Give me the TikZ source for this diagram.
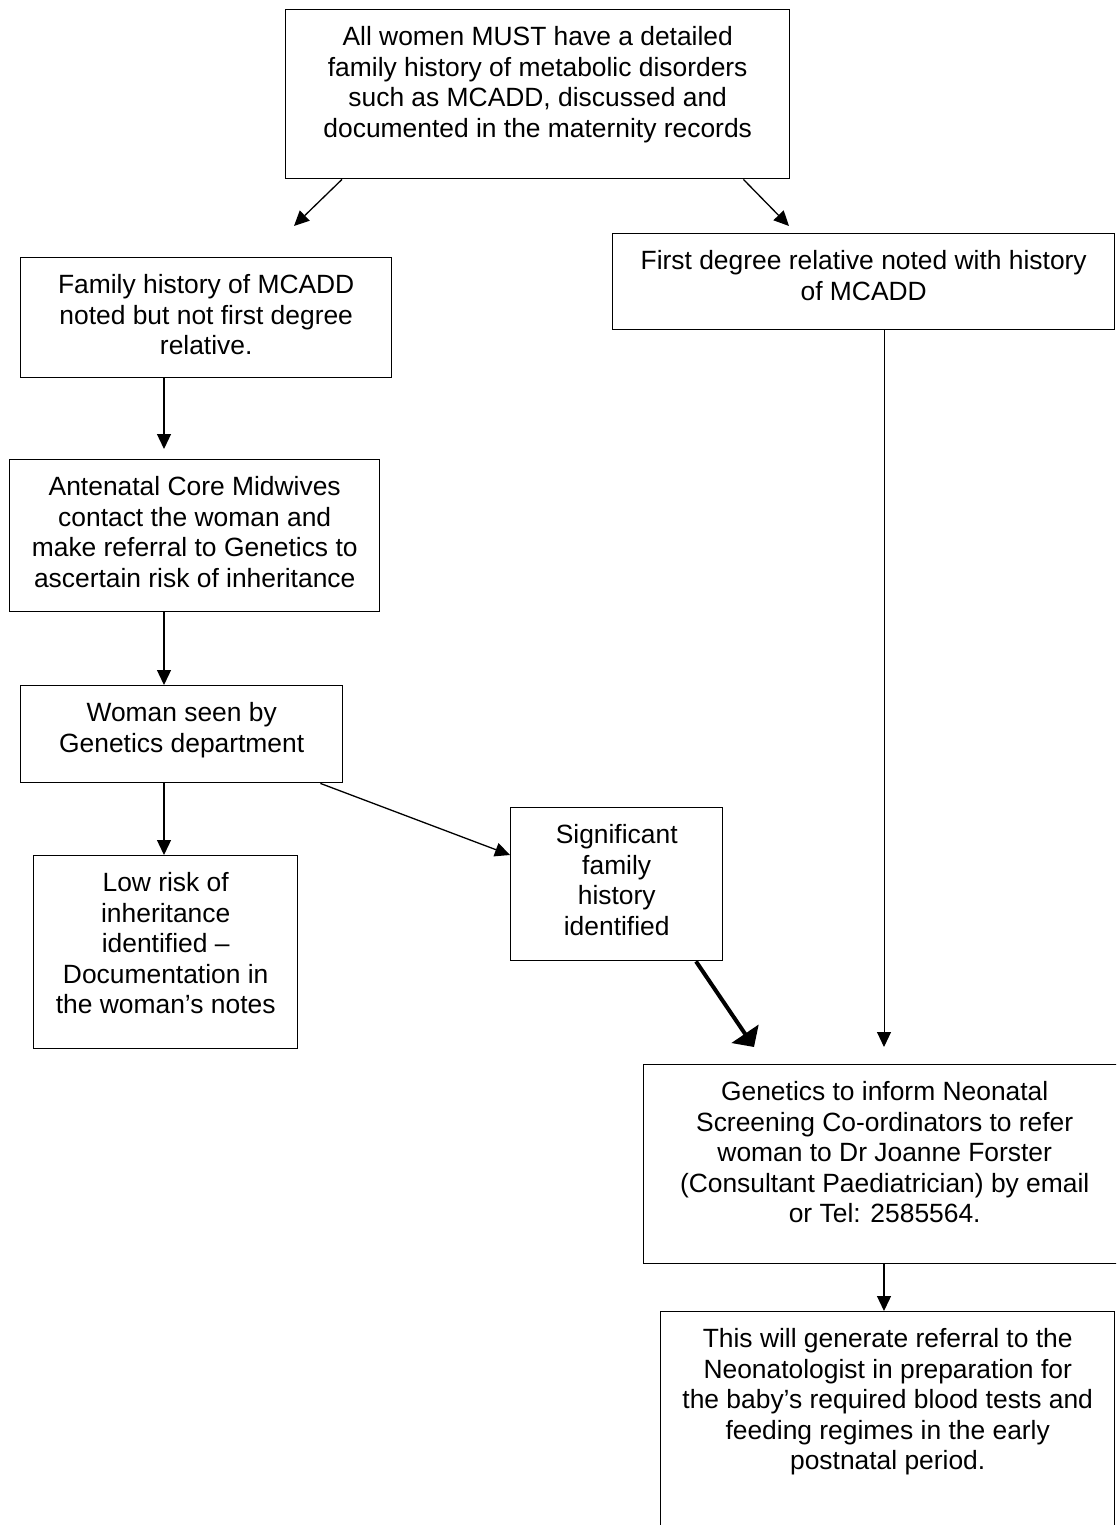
\documentclass[tikz,border=0pt]{standalone}
\usepackage{fontspec}
\setmainfont{Liberation Sans}
\usetikzlibrary{arrows.meta,calc}

% texto alinhado ao topo da caixa
\newcommand{\boxtxt}[3]{\parbox[t][#2][t]{#1}{\vspace*{17pt}\centering #3}}

\begin{document}
\begin{tikzpicture}[x=1pt, y=-1pt,
    >={Triangle[length=15pt,width=14pt]},
    flowbox/.style={draw, line width=1.4pt, inner sep=0pt, anchor=north west,
      font=\fontsize{26.4}{30.4}\selectfont},
    arr/.style={->, line width=1.3pt},
    thickarr/.style={-{Triangle[length=16pt,width=32pt]}, line width=4pt}]

  % área da figura
  \useasboundingbox (0,0) rectangle (1116,1525);
  \clip (0,0) rectangle (1116,1525);

  % --- caixas ---
  \node[flowbox] (hist) at (285,9) {\boxtxt{504pt}{169pt}{All women MUST have a detailed\\family history of metabolic disorders\\such as MCADD, discussed and\\documented in the maternity records}};
  \node[flowbox] (fam) at (20,257) {\boxtxt{371pt}{120pt}{Family history of MCADD\\noted but not first degree\\relative.}};
  \node[flowbox] (first) at (612,233) {\boxtxt{502pt}{96pt}{First degree relative noted with history\\of MCADD}};
  \node[flowbox] (ante) at (9,459) {\boxtxt{370pt}{152pt}{Antenatal Core Midwives\\contact the woman and\\make referral to Genetics to\\ascertain risk of inheritance}};
  \node[flowbox] (seen) at (20,685) {\boxtxt{322pt}{97pt}{Woman seen by\\Genetics department}};
  \node[flowbox] (sig) at (510,807) {\boxtxt{212pt}{153pt}{Significant\\family\\history\\identified}};
  \node[flowbox] (low) at (33,855) {\boxtxt{264pt}{193pt}{Low risk of\\inheritance\\identified –\\Documentation in\\the woman’s notes}};
  \node[flowbox] (gen) at (643,1064) {\boxtxt{482pt}{199pt}{Genetics to inform Neonatal\\Screening Co-ordinators to refer\\woman to Dr Joanne Forster\\(Consultant Paediatrician) by email\\or Tel: 2585564.}};
  \node[flowbox] (will) at (660,1311) {\boxtxt{454pt}{240pt}{This will generate referral to the\\Neonatologist in preparation for\\the baby’s required blood tests and\\feeding regimes in the early\\postnatal period.}};

  % pontas livres das setas
  \coordinate (famtip) at (294,226);
  \coordinate (firsttip) at (789,226);
  \coordinate (antetip) at (164,449);
  \coordinate (gentip) at (754,1047);
  \coordinate (gentipr) at (884,1047);

  % --- setas ---
  \draw[arr] ($(hist.south west)+(57,0)$) -- (famtip);
  \draw[arr] ($(hist.south east)+(-47,0)$) -- (firsttip);
  \draw[arr] ($(fam.south west)+(144,0)$) -- (antetip);
  \draw[arr] ($(ante.south west)+(155,0)$) -- ($(seen.north west)+(144,0)$);
  \draw[arr] ($(seen.south west)+(144,0)$) -- ($(low.north west)+(131,0)$);
  \draw[arr] ($(seen.south east)+(-23,0)$) -- ($(sig.north west)+(0,48)$);
  \draw[thickarr] ($(sig.south west)+(186,0)$) -- (gentip);
  \draw[arr, line width=1pt] ($(first.south west)+(272,0)$) -- (gentipr);
  \draw[arr] ($(gen.south west)+(241,0)$) -- ($(will.north west)+(224,0)$);
\end{tikzpicture}
\end{document}
